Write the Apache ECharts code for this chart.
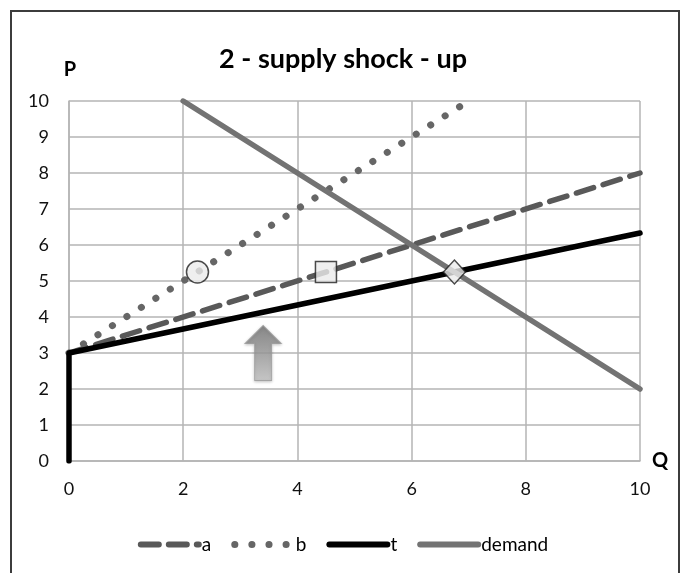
<!DOCTYPE html>
<html>
<head>
<meta charset="utf-8">
<script src="https://cdn.jsdelivr.net/npm/echarts@6/dist/echarts.min.js"></script>
<style>
  html, body { margin: 0; padding: 0; background: #fff; }
  #chart { width: 686px; height: 573px; }
</style>
</head>
<body>
<div id="chart"></div>
<script>
// Supply curves (quantity, price) pairs
const supplyA = [[0, 3], [10, 8]];
const supplyB = [[0, 3], [7, 10]];
const supplyT = [[0, 0], [0, 3], [10, 6.3333]];
const demand = [[2, 10], [10, 2]];

// Equilibrium markers at price 5.25
const circlePoint = [[2.25, 5.25]];
const squarePoint = [[4.5, 5.25]];
const diamondPoint = [[6.75, 5.25]];

// Shock arrow position
const arrowPoint = [[3.4, 3.0]];

const FONT = 'Lato, "Liberation Sans", sans-serif';
const GRIDLINE = { color: '#b4b4b4', width: 1.5 };
const markerStyle = { color: '#ebebeb', borderColor: '#1e1e1e', borderWidth: 1.5 };

const chart = echarts.init(document.getElementById('chart'), null, { renderer: 'canvas' });

chart.setOption({
  animation: false,
  backgroundColor: '#fff',
  textStyle: { fontFamily: FONT },
  graphic: [{
    type: 'rect',
    shape: { x: 11, y: 11, width: 668, height: 600 },
    style: { fill: 'none', stroke: '#3c3c3c', lineWidth: 2 },
    silent: true
  }],
  title: {
    text: '2 - supply shock - up',
    left: 'center',
    top: 41,
    textStyle: { fontFamily: FONT, fontSize: 27, fontWeight: 'bold', color: '#000' }
  },
  grid: { left: 69, right: 46, top: 101, bottom: 112 },
  xAxis: {
    type: 'value', min: 0, max: 10, interval: 2,
    name: 'Q', nameLocation: 'end', nameGap: 12,
    nameTextStyle: { fontFamily: FONT, fontSize: 20, fontWeight: 'bold', color: '#000',
      align: 'left', verticalAlign: 'middle', padding: [0, 0, 8, 0] },
    axisLine: { show: true, lineStyle: GRIDLINE },
    axisTick: { show: false },
    splitLine: { show: true, lineStyle: GRIDLINE },
    axisLabel: { fontFamily: FONT, fontSize: 18, color: '#111', margin: 19 }
  },
  yAxis: {
    type: 'value', min: 0, max: 10, interval: 1,
    name: 'P', nameLocation: 'end', nameGap: 21,
    nameTextStyle: { fontFamily: FONT, fontSize: 20, fontWeight: 'bold', color: '#000', align: 'center', padding: [0, 0, 0, 2] },
    axisLine: { show: true, lineStyle: GRIDLINE },
    axisTick: { show: false },
    splitLine: { show: true, lineStyle: GRIDLINE },
    axisLabel: { fontFamily: FONT, fontSize: 18, color: '#111', margin: 20 }
  },
  legend: {
    data: [
      { name: 'a', lineStyle: { width: 6 } },
      { name: 'b', lineStyle: { width: 7 } },
      { name: 't', lineStyle: { width: 6 } },
      { name: 'demand', lineStyle: { width: 6 } }
    ],
    left: 'center',
    top: 530,
    itemWidth: 58,
    itemHeight: 10,
    itemGap: 20,
    itemStyle: { opacity: 0 },
    textStyle: { fontFamily: FONT, fontSize: 19, color: '#000', padding: [0, 0, 0, -2] }
  },
  series: [
    {
      name: 'a', type: 'line', data: supplyA, showSymbol: false, symbol: 'none',
      lineStyle: { color: '#595959', width: 5.5, type: [18, 10], cap: 'round' },
      itemStyle: { color: '#595959' }, z: 2
    },
    {
      name: 'b', type: 'line', data: supplyB, showSymbol: false, symbol: 'none',
      lineStyle: { color: '#666666', width: 7, type: [0.1, 17], cap: 'round' },
      itemStyle: { color: '#666666' }, z: 2
    },
    {
      name: 't', type: 'line', data: supplyT, showSymbol: false, symbol: 'none',
      lineStyle: { color: '#000000', width: 5.5, cap: 'round', join: 'round' },
      itemStyle: { color: '#000000' }, z: 3
    },
    {
      name: 'demand', type: 'line', data: demand, showSymbol: false, symbol: 'none',
      lineStyle: { color: '#737373', width: 5.5, cap: 'round' },
      itemStyle: { color: '#737373' }, z: 4
    },
    {
      type: 'scatter', data: circlePoint, symbol: 'circle', symbolSize: 22,
      itemStyle: markerStyle, z: 6, silent: true
    },
    {
      type: 'scatter', data: squarePoint, symbol: 'rect', symbolSize: 21,
      itemStyle: markerStyle, z: 6, silent: true
    },
    {
      type: 'scatter', data: diamondPoint, symbol: 'diamond', symbolSize: [22, 24],
      itemStyle: markerStyle, z: 6, silent: true
    },
    {
      type: 'scatter', data: arrowPoint,
      symbol: 'path://M18,0 L36,18 L26.5,18 L26.5,55 L9.5,55 L9.5,18 L0,18 Z',
      symbolSize: [36, 55], symbolKeepAspect: false,
      itemStyle: {
        color: new echarts.graphic.LinearGradient(0, 0, 0, 1, [
          { offset: 0, color: '#747474' },
          { offset: 1, color: '#c4c4c4' }
        ]),
        borderColor: '#9a9a9a', borderWidth: 1,
        shadowColor: 'rgba(0,0,0,0.25)', shadowBlur: 3, shadowOffsetY: 1
      },
      z: 5, silent: true
    }
  ]
});
</script>
</body>
</html>
